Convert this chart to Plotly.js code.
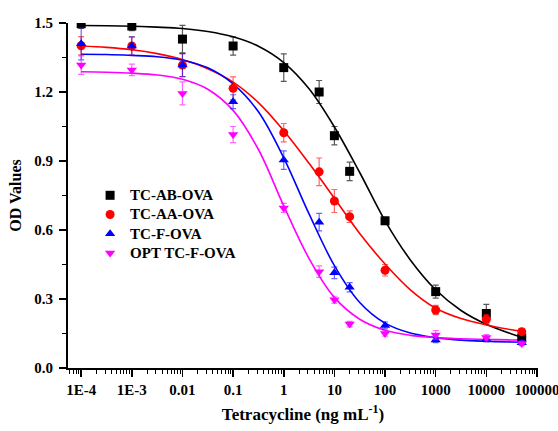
<!DOCTYPE html>
<html>
<head>
<meta charset="utf-8">
<script src="https://cdn.plot.ly/plotly-3.0.1.min.js"></script>
<style>
html,body{margin:0;padding:0;background:#fff;}
#chart{width:558px;height:431px;}
#chart .legendtext{font-size:15px !important;}
#chart .legend .scrollbox{clip-path:none !important;}
</style>
</head>
<body>
<div id="chart"></div>
<script>
// Concentrations (ng/mL)
const conc = [1e-4, 1e-3, 0.01, 0.1, 1, 5, 10, 20, 100, 1000, 10000, 50000];
const seriesNames = ["TC-AB-OVA", "TC-AA-OVA", "TC-F-OVA", "OPT TC-F-OVA"];

// Measured OD values
const odAB  = [1.497, 1.487, 1.430, 1.400, 1.306, 1.200, 1.010, 0.855, 0.640, 0.332, 0.237, 0.130];
const odAA  = [1.401, 1.400, 1.317, 1.216, 1.023, 0.853, 0.726, 0.658, 0.425, 0.252, 0.212, 0.158];
const odF   = [1.410, 1.400, 1.317, 1.158, 0.904, 0.634, 0.414, 0.351, 0.185, 0.122, 0.125, 0.110];
const odOPT = [1.317, 1.296, 1.194, 1.015, 0.696, 0.419, 0.297, 0.191, 0.150, 0.143, 0.133, 0.107];

// Error bars (SD)
const errAB  = [0.02, 0.02, 0.06, 0.04, 0.06, 0.05, 0.04, 0.04, 0.015, 0.028, 0.04, 0.015];
const errAA  = [0.04, 0.04, 0.05, 0.05, 0.04, 0.06, 0.05, 0.025, 0.025, 0.02, 0.02, 0.012];
const errF   = [0.07, 0.04, 0.05, 0.03, 0.04, 0.038, 0.025, 0.02, 0.015, 0.012, 0.012, 0.01];
const errOPT = [0.04, 0.025, 0.05, 0.035, 0.02, 0.025, 0.015, 0.012, 0.012, 0.02, 0.012, 0.01];

// Fitted curve values
const fitX   = [1e-4, 3.16e-4, 1e-3, 3.16e-3, 0.01, 0.0316, 0.1, 0.316, 1, 3.16, 10, 31.6, 100, 316, 1000, 3162, 10000, 31623, 50000];
const fitAB  = [1.489, 1.488, 1.486, 1.482, 1.476, 1.463, 1.440, 1.399, 1.328, 1.214, 1.048, 0.850, 0.640, 0.470, 0.340, 0.250, 0.190, 0.148, 0.135];
const fitAA  = [1.400, 1.394, 1.384, 1.367, 1.341, 1.301, 1.243, 1.154, 1.032, 0.890, 0.738, 0.585, 0.452, 0.340, 0.260, 0.215, 0.187, 0.166, 0.160];
const fitF   = [1.364, 1.363, 1.359, 1.353, 1.338, 1.305, 1.235, 1.114, 0.914, 0.670, 0.445, 0.285, 0.195, 0.152, 0.132, 0.121, 0.116, 0.113, 0.112];
const fitOPT = [1.288, 1.286, 1.282, 1.274, 1.255, 1.212, 1.120, 0.950, 0.705, 0.476, 0.307, 0.212, 0.164, 0.142, 0.132, 0.127, 0.124, 0.122, 0.121];

const xTickVals = [1e-4, 1e-3, 0.01, 0.1, 1, 10, 100, 1000, 10000, 100000];
const xTickText = ["1E-4", "1E-3", "0.01", "0.1", "1", "10", "100", "1000", "10000", "100000"];

const colors = ["#000000", "#ff0000", "#0000ff", "#ff00ff"];
const errColors = ["rgba(0,0,0,0.65)", "rgba(255,0,0,0.6)", "rgba(0,0,255,0.6)", "rgba(255,0,255,0.6)"];
const symbols = ["square", "circle", "triangle-up", "triangle-down"];
const odAll = [odAB, odAA, odF, odOPT];
const errAll = [errAB, errAA, errF, errOPT];
const fitAll = [fitAB, fitAA, fitF, fitOPT];

const FAM = "Liberation Serif";

const traces = [];
for (let i = 0; i < 4; i++) {
  traces.push({
    x: fitX, y: fitAll[i], mode: "lines", type: "scatter",
    line: {color: colors[i], width: 1.6, shape: "spline", smoothing: 1},
    showlegend: false, hoverinfo: "skip"
  });
}
for (let i = 0; i < 4; i++) {
  traces.push({
    x: conc, y: odAll[i], mode: "markers", type: "scatter", name: seriesNames[i],
    marker: {symbol: symbols[i], color: colors[i], size: 9, line: {width: 0}},
    error_y: {type: "data", array: errAll[i], visible: true, color: errColors[i], thickness: 1.2, width: 3}
  });
}

const layout = {
  width: 558, height: 431,
  margin: {l: 68, r: 20, t: 23, b: 63},
  paper_bgcolor: "#fff", plot_bgcolor: "#fff",
  font: {family: FAM, size: 15, color: "#000", weight: "bold"},
  showlegend: true,
  legend: {x: 0.047, y: 0.543, xanchor: "left", yanchor: "top", bgcolor: "rgba(0,0,0,0)",
           font: {family: FAM, size: 12.5, color: "#000", weight: "bold"}, tracegroupgap: 0, itemwidth: 30},
  xaxis: {
    type: "log", range: [-4.26, 5.02],
    tickmode: "array", tickvals: xTickVals, ticktext: xTickText, ticklabeloverflow: "allow",
    ticks: "outside", ticklen: 7, tickwidth: 1.5, tickcolor: "#000",
    minor: {ticks: "outside", ticklen: 4, tickwidth: 1, tickcolor: "#000", dtick: "D1", showgrid: false},
    showline: true, linecolor: "#000", linewidth: 2, showgrid: false, zeroline: false,
    tickfont: {family: FAM, size: 15, color: "#000", weight: "bold"},
    title: {text: "Tetracycline (ng mL<sup>-1</sup>)", font: {family: FAM, size: 17, color: "#000", weight: "bold"}, standoff: 11}
  },
  yaxis: {
    range: [0, 1.5], tickmode: "linear", tick0: 0, dtick: 0.3, tickformat: ".1f",
    ticks: "outside", ticklen: 7, tickwidth: 1.5, tickcolor: "#000", ticklabelstandoff: 3,
    minor: {ticks: "outside", ticklen: 4, tickwidth: 1, tickcolor: "#000", dtick: 0.15, showgrid: false},
    showline: true, linecolor: "#000", linewidth: 2, showgrid: false, zeroline: false,
    tickfont: {family: FAM, size: 15, color: "#000", weight: "bold"},
    title: {text: "OD Values", font: {family: FAM, size: 16, color: "#000", weight: "bold"}, standoff: 9}
  }
};

Plotly.newPlot("chart", traces, layout, {displayModeBar: false, staticPlot: true});
</script>
</body>
</html>
